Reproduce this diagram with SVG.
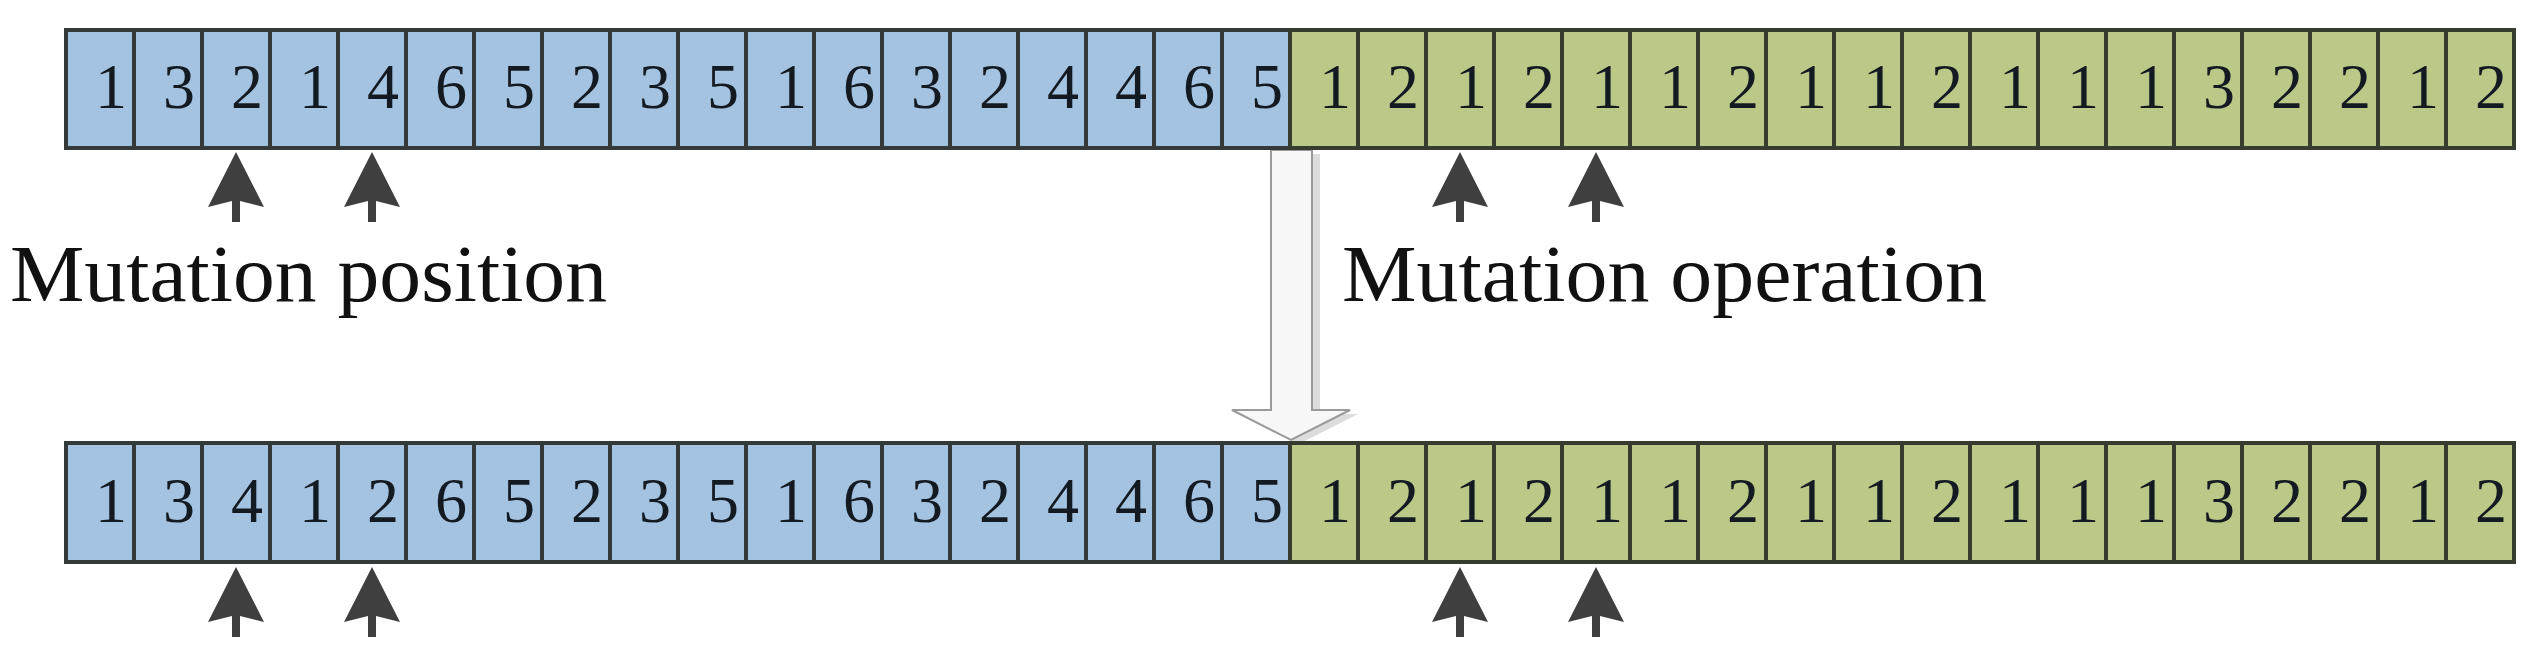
<svg xmlns="http://www.w3.org/2000/svg" width="2538" height="653" viewBox="0 0 2538 653">
<style>
.b{fill:#a3c3e1;stroke:#343a3a;stroke-width:4}
.g{fill:#bac987;stroke:#363d30;stroke-width:4}
.d{font-family:"Liberation Serif","Times New Roman",serif;font-size:64px;fill:#141a22;text-anchor:end}
.lbl{font-family:"Liberation Serif","Times New Roman",serif;font-size:80px;fill:#111}
.ar{fill:#3f3f3f}
</style>
<defs>
<polygon id="sa" points="0,0 28,55 4,49 4,70 -4,70 -4,49 -28,55"/>
</defs>
<rect width="2538" height="653" fill="#fff"/>
<g id="big-arrow">
<polygon points="1279,154 1320,154 1320,414 1358,414 1299,444 1240,414 1279,414" fill="#dcdcdc"/>
<polygon points="1271,150 1312,150 1312,410 1350,410 1291,440 1232,410 1271,410" fill="#f7f7f7" stroke="#9a9a9a" stroke-width="2"/>
</g>
<g id="row-top">
<g id="t0"><rect class="b" x="66" y="30" width="68" height="118"/><text class="d" x="127" y="108">1</text></g>
<g id="t1"><rect class="b" x="134" y="30" width="68" height="118"/><text class="d" x="195" y="108">3</text></g>
<g id="t2"><rect class="b" x="202" y="30" width="68" height="118"/><text class="d" x="263" y="108">2</text></g>
<g id="t3"><rect class="b" x="270" y="30" width="68" height="118"/><text class="d" x="331" y="108">1</text></g>
<g id="t4"><rect class="b" x="338" y="30" width="68" height="118"/><text class="d" x="399" y="108">4</text></g>
<g id="t5"><rect class="b" x="406" y="30" width="68" height="118"/><text class="d" x="467" y="108">6</text></g>
<g id="t6"><rect class="b" x="474" y="30" width="68" height="118"/><text class="d" x="535" y="108">5</text></g>
<g id="t7"><rect class="b" x="542" y="30" width="68" height="118"/><text class="d" x="603" y="108">2</text></g>
<g id="t8"><rect class="b" x="610" y="30" width="68" height="118"/><text class="d" x="671" y="108">3</text></g>
<g id="t9"><rect class="b" x="678" y="30" width="68" height="118"/><text class="d" x="739" y="108">5</text></g>
<g id="t10"><rect class="b" x="746" y="30" width="68" height="118"/><text class="d" x="807" y="108">1</text></g>
<g id="t11"><rect class="b" x="814" y="30" width="68" height="118"/><text class="d" x="875" y="108">6</text></g>
<g id="t12"><rect class="b" x="882" y="30" width="68" height="118"/><text class="d" x="943" y="108">3</text></g>
<g id="t13"><rect class="b" x="950" y="30" width="68" height="118"/><text class="d" x="1011" y="108">2</text></g>
<g id="t14"><rect class="b" x="1018" y="30" width="68" height="118"/><text class="d" x="1079" y="108">4</text></g>
<g id="t15"><rect class="b" x="1086" y="30" width="68" height="118"/><text class="d" x="1147" y="108">4</text></g>
<g id="t16"><rect class="b" x="1154" y="30" width="68" height="118"/><text class="d" x="1215" y="108">6</text></g>
<g id="t17"><rect class="b" x="1222" y="30" width="68" height="118"/><text class="d" x="1283" y="108">5</text></g>
<g id="t18"><rect class="g" x="1290" y="30" width="68" height="118"/><text class="d" x="1351" y="108">1</text></g>
<g id="t19"><rect class="g" x="1358" y="30" width="68" height="118"/><text class="d" x="1419" y="108">2</text></g>
<g id="t20"><rect class="g" x="1426" y="30" width="68" height="118"/><text class="d" x="1487" y="108">1</text></g>
<g id="t21"><rect class="g" x="1494" y="30" width="68" height="118"/><text class="d" x="1555" y="108">2</text></g>
<g id="t22"><rect class="g" x="1562" y="30" width="68" height="118"/><text class="d" x="1623" y="108">1</text></g>
<g id="t23"><rect class="g" x="1630" y="30" width="68" height="118"/><text class="d" x="1691" y="108">1</text></g>
<g id="t24"><rect class="g" x="1698" y="30" width="68" height="118"/><text class="d" x="1759" y="108">2</text></g>
<g id="t25"><rect class="g" x="1766" y="30" width="68" height="118"/><text class="d" x="1827" y="108">1</text></g>
<g id="t26"><rect class="g" x="1834" y="30" width="68" height="118"/><text class="d" x="1895" y="108">1</text></g>
<g id="t27"><rect class="g" x="1902" y="30" width="68" height="118"/><text class="d" x="1963" y="108">2</text></g>
<g id="t28"><rect class="g" x="1970" y="30" width="68" height="118"/><text class="d" x="2031" y="108">1</text></g>
<g id="t29"><rect class="g" x="2038" y="30" width="68" height="118"/><text class="d" x="2099" y="108">1</text></g>
<g id="t30"><rect class="g" x="2106" y="30" width="68" height="118"/><text class="d" x="2167" y="108">1</text></g>
<g id="t31"><rect class="g" x="2174" y="30" width="68" height="118"/><text class="d" x="2235" y="108">3</text></g>
<g id="t32"><rect class="g" x="2242" y="30" width="68" height="118"/><text class="d" x="2303" y="108">2</text></g>
<g id="t33"><rect class="g" x="2310" y="30" width="68" height="118"/><text class="d" x="2371" y="108">2</text></g>
<g id="t34"><rect class="g" x="2378" y="30" width="68" height="118"/><text class="d" x="2439" y="108">1</text></g>
<g id="t35"><rect class="g" x="2446" y="30" width="68" height="118"/><text class="d" x="2507" y="108">2</text></g>
</g>
<g id="row-bottom">
<g id="b0"><rect class="b" x="66" y="443" width="68" height="119"/><text class="d" x="127" y="522">1</text></g>
<g id="b1"><rect class="b" x="134" y="443" width="68" height="119"/><text class="d" x="195" y="522">3</text></g>
<g id="b2"><rect class="b" x="202" y="443" width="68" height="119"/><text class="d" x="263" y="522">4</text></g>
<g id="b3"><rect class="b" x="270" y="443" width="68" height="119"/><text class="d" x="331" y="522">1</text></g>
<g id="b4"><rect class="b" x="338" y="443" width="68" height="119"/><text class="d" x="399" y="522">2</text></g>
<g id="b5"><rect class="b" x="406" y="443" width="68" height="119"/><text class="d" x="467" y="522">6</text></g>
<g id="b6"><rect class="b" x="474" y="443" width="68" height="119"/><text class="d" x="535" y="522">5</text></g>
<g id="b7"><rect class="b" x="542" y="443" width="68" height="119"/><text class="d" x="603" y="522">2</text></g>
<g id="b8"><rect class="b" x="610" y="443" width="68" height="119"/><text class="d" x="671" y="522">3</text></g>
<g id="b9"><rect class="b" x="678" y="443" width="68" height="119"/><text class="d" x="739" y="522">5</text></g>
<g id="b10"><rect class="b" x="746" y="443" width="68" height="119"/><text class="d" x="807" y="522">1</text></g>
<g id="b11"><rect class="b" x="814" y="443" width="68" height="119"/><text class="d" x="875" y="522">6</text></g>
<g id="b12"><rect class="b" x="882" y="443" width="68" height="119"/><text class="d" x="943" y="522">3</text></g>
<g id="b13"><rect class="b" x="950" y="443" width="68" height="119"/><text class="d" x="1011" y="522">2</text></g>
<g id="b14"><rect class="b" x="1018" y="443" width="68" height="119"/><text class="d" x="1079" y="522">4</text></g>
<g id="b15"><rect class="b" x="1086" y="443" width="68" height="119"/><text class="d" x="1147" y="522">4</text></g>
<g id="b16"><rect class="b" x="1154" y="443" width="68" height="119"/><text class="d" x="1215" y="522">6</text></g>
<g id="b17"><rect class="b" x="1222" y="443" width="68" height="119"/><text class="d" x="1283" y="522">5</text></g>
<g id="b18"><rect class="g" x="1290" y="443" width="68" height="119"/><text class="d" x="1351" y="522">1</text></g>
<g id="b19"><rect class="g" x="1358" y="443" width="68" height="119"/><text class="d" x="1419" y="522">2</text></g>
<g id="b20"><rect class="g" x="1426" y="443" width="68" height="119"/><text class="d" x="1487" y="522">1</text></g>
<g id="b21"><rect class="g" x="1494" y="443" width="68" height="119"/><text class="d" x="1555" y="522">2</text></g>
<g id="b22"><rect class="g" x="1562" y="443" width="68" height="119"/><text class="d" x="1623" y="522">1</text></g>
<g id="b23"><rect class="g" x="1630" y="443" width="68" height="119"/><text class="d" x="1691" y="522">1</text></g>
<g id="b24"><rect class="g" x="1698" y="443" width="68" height="119"/><text class="d" x="1759" y="522">2</text></g>
<g id="b25"><rect class="g" x="1766" y="443" width="68" height="119"/><text class="d" x="1827" y="522">1</text></g>
<g id="b26"><rect class="g" x="1834" y="443" width="68" height="119"/><text class="d" x="1895" y="522">1</text></g>
<g id="b27"><rect class="g" x="1902" y="443" width="68" height="119"/><text class="d" x="1963" y="522">2</text></g>
<g id="b28"><rect class="g" x="1970" y="443" width="68" height="119"/><text class="d" x="2031" y="522">1</text></g>
<g id="b29"><rect class="g" x="2038" y="443" width="68" height="119"/><text class="d" x="2099" y="522">1</text></g>
<g id="b30"><rect class="g" x="2106" y="443" width="68" height="119"/><text class="d" x="2167" y="522">1</text></g>
<g id="b31"><rect class="g" x="2174" y="443" width="68" height="119"/><text class="d" x="2235" y="522">3</text></g>
<g id="b32"><rect class="g" x="2242" y="443" width="68" height="119"/><text class="d" x="2303" y="522">2</text></g>
<g id="b33"><rect class="g" x="2310" y="443" width="68" height="119"/><text class="d" x="2371" y="522">2</text></g>
<g id="b34"><rect class="g" x="2378" y="443" width="68" height="119"/><text class="d" x="2439" y="522">1</text></g>
<g id="b35"><rect class="g" x="2446" y="443" width="68" height="119"/><text class="d" x="2507" y="522">2</text></g>
</g>
<g id="connectors">
<use href="#sa" class="ar" x="236" y="152"/>
<use href="#sa" class="ar" x="372" y="152"/>
<use href="#sa" class="ar" x="1460" y="152"/>
<use href="#sa" class="ar" x="1596" y="152"/>
<use href="#sa" class="ar" x="236" y="567"/>
<use href="#sa" class="ar" x="372" y="567"/>
<use href="#sa" class="ar" x="1460" y="567"/>
<use href="#sa" class="ar" x="1596" y="567"/>
</g>
<g id="labels">
<text class="lbl" x="10" y="301" textLength="597" lengthAdjust="spacingAndGlyphs">Mutation position</text>
<text class="lbl" x="1342" y="301" textLength="645" lengthAdjust="spacingAndGlyphs">Mutation operation</text>
</g>
</svg>
